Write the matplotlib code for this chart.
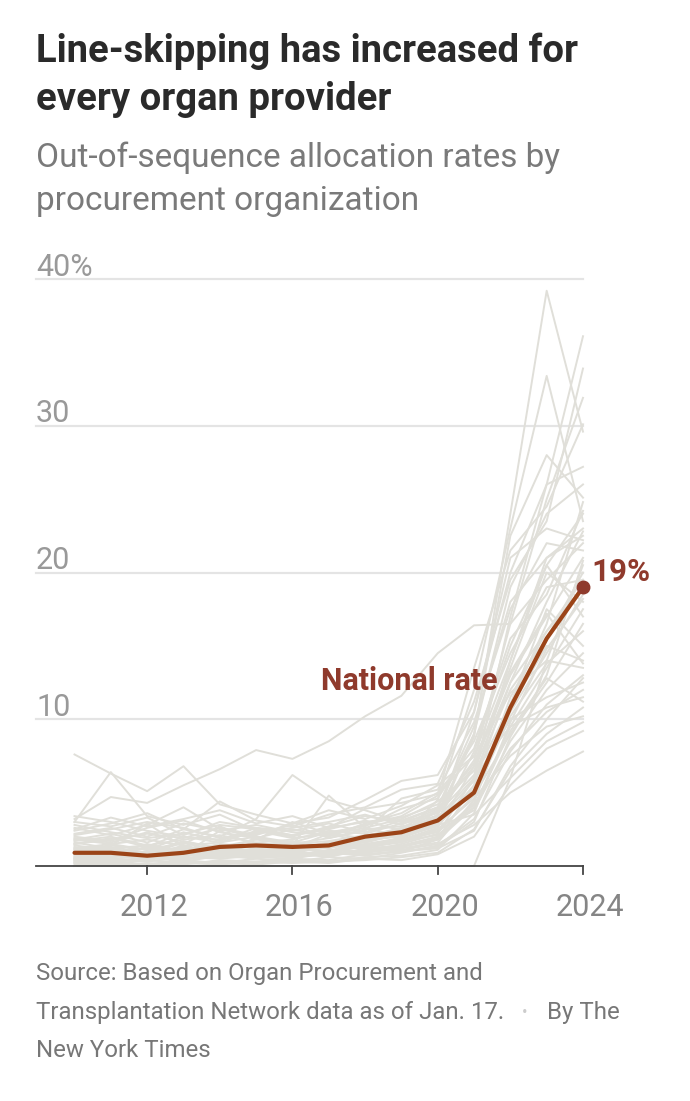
import matplotlib
matplotlib.use("Agg")
import matplotlib.pyplot as plt
from matplotlib import font_manager

# ---------------- data ----------------
years = [2010, 2011, 2012, 2013, 2014, 2015, 2016, 2017, 2018, 2019, 2020, 2021, 2022, 2023, 2024]

national_rate = [0.9, 0.9, 0.7, 0.9, 1.3, 1.4, 1.3, 1.4, 2.0, 2.3, 3.1, 5.0, 10.8, 15.5, 19.0]

opo_01 = [1.2, 0.8, 1.5, 0.9, 1.1, 1.6, 1.3, 1.0, 1.8, 2.2, 3.5, 8.8, 24.0, 39.2, 29.6]
opo_02 = [0.5, 1.0, 0.7, 1.4, 0.9, 1.2, 0.8, 1.5, 1.1, 2.0, 4.5, 12.0, 23.0, 33.4, 23.5]
opo_03 = [3.2, 4.7, 4.3, 5.5, 6.6, 7.9, 7.3, 8.5, 10.2, 11.6, 14.5, 16.4, 16.5, 25.0, 31.9]
opo_04 = [7.6, 6.3, 5.1, 6.8, 4.2, 3.5, 2.9, 3.8, 3.2, 4.1, 5.5, 7.5, 14.0, 20.5, 24.0]
opo_05 = [3.0, 6.4, 3.4, 2.8, 3.5, 2.4, 2.1, 2.6, 3.0, 3.3, 4.2, 6.5, 12.5, 16.0, 19.0]
opo_06 = [1.8, 2.2, 1.6, 2.5, 2.0, 3.2, 6.2, 4.5, 3.8, 3.0, 4.0, 9.5, 18.0, 21.0, 22.5]
opo_07 = [1.5, 1.8, 2.2, 1.9, 2.6, 2.1, 2.9, 3.3, 4.5, 5.8, 6.2, 10.5, 20.0, 26.0, 36.1]
opo_08 = [2.4, 2.9, 3.6, 2.5, 4.4, 3.1, 2.7, 3.5, 4.0, 5.2, 5.6, 11.2, 19.5, 23.5, 33.9]
opo_09 = [0.9, 1.4, 1.1, 2.0, 1.6, 2.4, 1.9, 2.2, 2.8, 3.4, 4.8, 13.5, 21.5, 24.5, 30.1]
opo_10 = [1.1, 0.6, 0.9, 1.3, 0.8, 1.0, 1.4, 1.2, 1.7, 2.1, 3.0, 9.0, 22.5, 28.0, 25.1]
opo_11 = [0.3, 0.5, 0.4, 0.8, 0.6, 0.9, 0.7, 1.1, 1.0, 1.5, 2.2, 6.0, 17.0, 26.0, 27.2]
opo_12 = [2.0, 1.7, 2.6, 3.1, 2.3, 1.9, 2.5, 2.0, 2.9, 3.6, 5.0, 8.0, 15.5, 18.5, 24.2]
opo_13 = [0.0, 0.0, 0.2, 0.1, 0.4, 0.3, 0.5, 0.4, 0.8, 1.0, 1.8, 5.5, 14.0, 21.0, 23.0]
opo_14 = [1.4, 1.1, 0.8, 1.0, 1.5, 1.3, 1.1, 1.6, 2.0, 2.6, 3.8, 7.2, 16.5, 19.5, 22.0]
opo_15 = [0.6, 0.9, 1.2, 0.7, 1.0, 0.8, 1.3, 0.9, 1.4, 1.8, 2.6, 6.8, 13.0, 17.0, 21.0]
opo_16 = [2.8, 2.3, 1.9, 2.2, 2.8, 2.5, 2.0, 2.7, 3.4, 3.0, 3.6, 6.2, 12.0, 15.5, 20.0]
opo_17 = [0.2, 0.4, 0.3, 0.6, 0.5, 0.7, 0.6, 0.8, 0.9, 1.2, 1.6, 4.5, 11.5, 16.0, 19.5]
opo_18 = [1.0, 1.3, 0.9, 1.7, 1.2, 1.5, 1.0, 1.3, 1.6, 2.3, 3.2, 5.2, 10.5, 14.5, 18.5]
opo_19 = [0.4, 0.2, 0.6, 0.3, 0.7, 0.5, 0.9, 0.6, 1.2, 1.4, 2.0, 4.0, 9.5, 13.5, 17.5]
opo_20 = [1.7, 2.0, 1.4, 1.8, 2.1, 1.6, 1.8, 2.4, 2.2, 2.9, 3.4, 4.8, 9.0, 12.5, 16.5]
opo_21 = [0.8, 0.6, 1.0, 1.2, 0.9, 1.1, 0.8, 1.0, 1.3, 1.6, 2.4, 3.8, 8.5, 12.0, 14.5]
opo_22 = [0.1, 0.3, 0.1, 0.4, 0.2, 0.5, 0.3, 0.6, 0.5, 0.9, 1.4, 3.2, 7.8, 11.0, 13.0]
opo_23 = [1.2, 1.5, 1.8, 1.4, 1.6, 2.0, 1.5, 1.9, 2.5, 2.7, 3.1, 5.8, 10.0, 11.5, 12.5]
opo_24 = [0.5, 0.8, 0.5, 0.9, 1.1, 0.7, 1.0, 0.8, 1.1, 1.3, 1.9, 4.2, 8.0, 10.5, 12.0]
opo_25 = [2.2, 2.6, 2.0, 2.9, 2.4, 2.8, 2.3, 2.1, 2.6, 3.2, 4.4, 6.5, 9.5, 10.8, 11.5]
opo_26 = [0.0, 0.1, 0.0, 0.2, 0.1, 0.3, 0.2, 0.3, 0.4, 0.6, 0.9, 2.5, 6.5, 9.0, 10.8]
opo_27 = [0.7, 1.0, 0.6, 1.1, 0.8, 1.2, 0.9, 1.4, 1.2, 1.7, 2.5, 4.6, 7.5, 9.5, 10.2]
opo_28 = [1.6, 1.2, 1.4, 1.0, 1.3, 0.9, 1.2, 1.0, 1.5, 1.9, 2.8, 3.5, 6.0, 8.5, 9.8]
opo_29 = [0.3, 0.6, 0.8, 0.5, 0.9, 0.6, 0.8, 0.7, 1.0, 1.1, 1.5, 2.8, 5.0, 6.5, 7.8]
opo_30 = [0.0, 0.0, 0.0, 0.0, 0.0, 0.0, 0.0, 0.0, 0.0, 0.0, 0.0, 0.0, 6.0, 14.0, 20.5]
opo_31 = [3.4, 3.0, 2.4, 2.0, 1.8, 2.3, 2.6, 3.0, 3.5, 2.8, 3.9, 7.0, 13.5, 20.0, 18.0]
opo_32 = [1.9, 1.6, 2.3, 1.5, 2.7, 1.8, 3.0, 2.2, 1.9, 2.5, 3.3, 6.0, 11.0, 17.5, 15.0]
opo_33 = [0.9, 1.2, 0.8, 1.6, 1.0, 1.9, 1.4, 4.8, 2.6, 2.0, 2.9, 5.0, 10.8, 15.0, 14.0]
opo_34 = [2.6, 2.1, 2.8, 4.0, 2.5, 2.0, 1.6, 2.3, 2.7, 3.9, 4.6, 8.5, 14.5, 19.0, 19.5]
opo_35 = [0.4, 0.7, 0.5, 1.0, 0.7, 0.9, 0.6, 1.0, 0.8, 1.0, 1.3, 3.0, 8.8, 13.0, 20.8]
opo_36 = [1.3, 0.9, 1.2, 0.8, 2.4, 1.4, 1.7, 1.3, 1.8, 2.0, 2.7, 5.5, 12.5, 18.0, 22.8]
opo_37 = [0.6, 0.4, 0.9, 0.6, 1.2, 0.8, 1.1, 1.5, 1.3, 1.7, 2.1, 4.3, 11.0, 16.5, 24.8]
opo_38 = [2.1, 2.5, 3.0, 2.6, 1.9, 2.2, 2.8, 1.9, 2.4, 4.6, 5.2, 9.8, 17.5, 22.0, 21.5]
opo_39 = [1.0, 0.8, 1.3, 1.1, 1.4, 1.0, 1.2, 2.2, 1.6, 2.2, 3.0, 7.8, 15.0, 20.5, 17.0]
opo_40 = [0.2, 0.1, 0.4, 0.2, 0.3, 0.2, 0.4, 0.3, 0.6, 0.7, 1.1, 3.6, 9.8, 14.8, 18.2]
opo_41 = [1.5, 1.9, 1.3, 2.3, 1.7, 2.6, 2.1, 2.5, 3.1, 2.4, 3.7, 6.8, 13.2, 17.2, 13.8]
opo_42 = [0.8, 1.1, 0.7, 1.0, 0.6, 1.0, 0.7, 0.9, 1.0, 1.3, 1.8, 4.0, 9.2, 12.8, 11.2]
opo_43 = [2.5, 3.3, 2.7, 3.2, 3.8, 2.9, 3.4, 2.6, 3.9, 4.3, 4.9, 7.5, 11.8, 14.0, 13.5]
opo_44 = [0.5, 0.3, 0.6, 0.4, 0.8, 0.6, 0.5, 0.9, 0.7, 1.0, 1.2, 2.4, 6.8, 10.0, 12.8]
opo_45 = [1.1, 1.4, 2.9, 1.3, 1.0, 1.5, 1.2, 1.6, 1.4, 1.8, 2.3, 4.8, 10.2, 13.8, 16.0]
opo_46 = [0.0, 0.2, 0.1, 0.3, 0.2, 0.1, 0.3, 0.2, 0.5, 0.4, 0.8, 2.0, 5.5, 8.0, 9.2]
opo_47 = [3.0, 2.7, 3.3, 2.1, 3.0, 2.6, 2.4, 2.9, 2.3, 3.1, 4.0, 9.0, 19.0, 24.0, 26.0]
opo_48 = [1.8, 1.5, 1.1, 1.6, 1.3, 1.8, 1.5, 1.7, 2.1, 2.5, 3.4, 10.5, 21.0, 23.0, 22.2]

opo_series = [opo_01, opo_02, opo_03, opo_04, opo_05, opo_06, opo_07, opo_08, opo_09, opo_10,
              opo_11, opo_12, opo_13, opo_14, opo_15, opo_16, opo_17, opo_18, opo_19, opo_20,
              opo_21, opo_22, opo_23, opo_24, opo_25, opo_26, opo_27, opo_28, opo_29, opo_30,
              opo_31, opo_32, opo_33, opo_34, opo_35, opo_36, opo_37, opo_38, opo_39, opo_40,
              opo_41, opo_42, opo_43, opo_44, opo_45, opo_46, opo_47, opo_48]

y_ticks = [10, 20, 30, 40]
y_tick_labels = ["10", "20", "30", "40%"]
x_ticks = [2012, 2016, 2020, 2024]
x_tick_labels = ["2012", "2016", "2020", "2024"]

# ---------------- fonts ----------------
available = {f.name for f in font_manager.fontManager.ttflist}
FONT = "Roboto" if "Roboto" in available else "DejaVu Sans"
plt.rcParams["font.family"] = [FONT, "DejaVu Sans"]

W, H = 690, 1101
fig = plt.figure(figsize=(W / 100, H / 100), dpi=100)


def fy(px):
    return 1 - px / H


def fx(px):
    return px / W


# axes placement (pixels)
left_px, right_px, top_px, bottom_px = 36, 583, 279, 866
ax = fig.add_axes([fx(left_px), fy(bottom_px), fx(right_px) - fx(left_px), fy(top_px) - fy(bottom_px)])
x_left = 2010 - (74.5 - left_px) / ((right_px - 74.5) / 14)
ax.set_xlim(x_left, 2024)
ax.set_ylim(0, 40)

for s in ax.spines.values():
    s.set_visible(False)
ax.set_xticks([])
ax.set_yticks([])

# gridlines
for v in y_ticks:
    ax.axhline(v, color="#e4e4e4", lw=1.6, zorder=0, clip_on=False)

# y tick labels (above gridlines, left aligned)
for v, lab in zip(y_ticks, y_tick_labels):
    ax.annotate(lab, xy=(x_left, v), xytext=(0, 2.5), textcoords="offset points",
                ha="left", va="baseline", fontsize=22, fontweight="normal", color="#999999",
                annotation_clip=False)

# OPO lines
for s in opo_series:
    ax.plot(years, s, color="#e0dfd9", lw=1.4, zorder=2, clip_on=False)

# national line
ax.plot(years, national_rate, color="#9b4418", lw=3.0, zorder=5, solid_capstyle="round", clip_on=False)
ax.plot([years[-1]], [national_rate[-1]], "o", color="#8f3a2c", ms=9, zorder=6, clip_on=False)

ax.annotate(f"{national_rate[-1]:.0f}%", xy=(years[-1], national_rate[-1]), xytext=(6.0, 11),
            textcoords="offset points", ha="left", va="center", fontsize=22.5, fontweight="bold",
            color="#8f3a2c", annotation_clip=False)
ax.text(2019.23, 12.6, "National rate", ha="center", va="center", fontsize=22, fontweight="bold",
        color="#8f3a2c", zorder=7)

# x axis baseline and ticks
ax.axhline(0, color="#444444", lw=1.3, zorder=8, clip_on=False)
for xt, lab in zip(x_ticks, x_tick_labels):
    ax.plot([xt, xt], [0, -0.55], color="#444444", lw=1.3, clip_on=False, zorder=8)
    ax.annotate(lab, xy=(xt, 0), xytext=(5, -30), textcoords="offset points", ha="center",
                va="center", fontsize=22, fontweight="normal", color="#858585",
                annotation_clip=False)

# ---------------- texts ----------------
fig.text(fx(36), fy(62), "Line-skipping has increased for", ha="left", va="baseline",
         fontsize=27.5, fontweight="bold", color="#2a2a2a")
fig.text(fx(36), fy(110), "every organ provider", ha="left", va="baseline",
         fontsize=27.5, fontweight="bold", color="#2a2a2a")
fig.text(fx(36), fy(167), "Out-of-sequence allocation rates by", ha="left", va="baseline",
         fontsize=24, color="#7a7a7a")
fig.text(fx(36), fy(210), "procurement organization", ha="left", va="baseline",
         fontsize=24, color="#7a7a7a")

src_kw = dict(ha="left", va="baseline", fontsize=17.3, color="#777777")
fig.text(fx(36), fy(980), "Source: Based on Organ Procurement and", **src_kw)
fig.text(fx(36), fy(1019), "Transplantation Network data as of Jan. 17.", **src_kw)
fig.text(fx(525), fy(1017), "\u2022", ha="center", va="baseline", fontsize=12, color="#cccccc")
fig.text(fx(547), fy(1019), "By The", **src_kw)
fig.text(fx(36), fy(1057), "New York Times", **src_kw)

fig.savefig("out.png", dpi=100, facecolor="white")
